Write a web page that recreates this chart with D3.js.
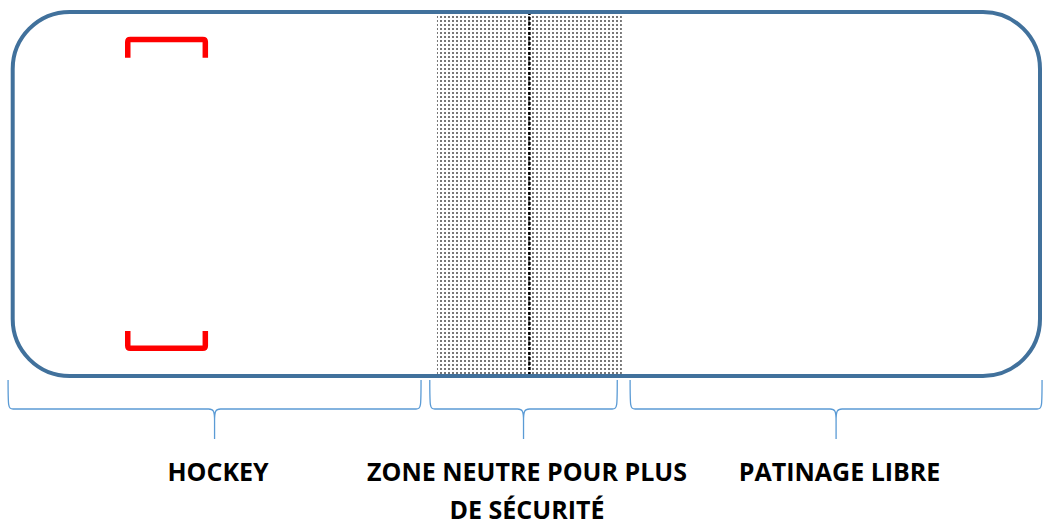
<!DOCTYPE html>
<html>
<head>
<meta charset="utf-8">
<script src="https://cdn.jsdelivr.net/npm/d3@7"></script>
<style>
  body { margin: 0; background: #fff; }
  svg { display: block; }
  .label { font-family: "Open Sans", sans-serif; font-weight: bold; font-size: 25px; fill: #000; }
</style>
</head>
<body>
<div id="chart"></div>
<script>
// rink in feet (length x width)
rinkLength = 200;
rinkWidth = 85;

// neutral zone and centre line (feet along the rink)
neutralZone = [82.6, 118.6];
centreLine = 100.6;

// goal brackets: x from/to, mouth y, back y (feet)
goals = [
  { x0: 22.4, x1: 37.5, open: 10.7, back: 6.4 },
  { x0: 22.4, x1: 37.5, open: 74.5, back: 78.5 }
];

// zones under the rink, braces and labels
zoneNames = ["HOCKEY", "ZONE NEUTRE POUR PLUS", "PATINAGE LIBRE"];
zoneLines2 = ["", "DE SÉCURITÉ", ""];
zoneStart = [-0.9, 81.2, 120.2];
zoneEnd = [79.5, 117.7, 200.4];

let width = 1043, height = 527;
let rinkBox = { left: 12.7, right: 1040, top: 12, bottom: 376 };
let cornerR = 57;

let x = d3.scaleLinear().domain([0, rinkLength]).range([rinkBox.left, rinkBox.right]);
let y = d3.scaleLinear().domain([0, rinkWidth]).range([rinkBox.top, rinkBox.bottom]);

let svg = d3.select("#chart").append("svg")
  .attr("width", width).attr("height", height);

// dot pattern for the neutral zone
let defs = svg.append("defs");
let pat = defs.append("pattern").attr("id", "dots")
  .attr("patternUnits", "userSpaceOnUse")
  .attr("width", 4).attr("height", 4);
pat.append("rect").attr("x", 0).attr("y", 0).attr("width", 2).attr("height", 2).attr("fill", "#777");

svg.append("rect")
  .attr("x", x(neutralZone[0])).attr("y", y(0))
  .attr("width", x(neutralZone[1]) - x(neutralZone[0]))
  .attr("height", y(rinkWidth) - y(0))
  .attr("fill", "url(#dots)");

// centre line
svg.append("line")
  .attr("x1", x(centreLine)).attr("x2", x(centreLine))
  .attr("y1", y(0)).attr("y2", y(rinkWidth))
  .attr("stroke", "#000").attr("stroke-width", 2.5)
  .attr("stroke-dasharray", "3,2");

// rink boards
svg.append("rect")
  .attr("x", x(0)).attr("y", y(0))
  .attr("width", x(rinkLength) - x(0))
  .attr("height", y(rinkWidth) - y(0))
  .attr("rx", cornerR).attr("ry", cornerR)
  .attr("fill", "none")
  .attr("stroke", "#41719C").attr("stroke-width", 4);

// goal brackets
svg.selectAll(".goal").data(goals).enter().append("path")
  .attr("class", "goal")
  .attr("d", function(d) {
    let a = x(d.x0), b = x(d.x1), o = y(d.open), k = y(d.back);
    let s = o > k ? 1 : -1, r = 2.5;
    return "M" + a + "," + o + " L" + a + "," + (k + s * r) +
      " Q" + a + "," + k + " " + (a + r) + "," + k +
      " L" + (b - r) + "," + k +
      " Q" + b + "," + k + " " + b + "," + (k + s * r) +
      " L" + b + "," + o;
  })
  .attr("fill", "none").attr("stroke", "#FF0000").attr("stroke-width", 5.5);

// braces under the rink
let braceTop = 380, braceMid = 409, braceTip = 439;
let zones = zoneNames.map(function(n, i) {
  return { name: n, line2: zoneLines2[i], start: zoneStart[i], end: zoneEnd[i] };
});

svg.selectAll(".brace").data(zones).enter().append("path")
  .attr("class", "brace")
  .attr("d", function(d) {
    let a = x(d.start), b = x(d.end), c = (a + b) / 2;
    let m = braceMid, t = braceTop, e = braceTip;
    return "M" + a + "," + t +
      " C" + a + "," + (m - 2) + " " + a + "," + m + " " + (a + 5) + "," + m +
      " L" + (c - 6) + "," + m +
      " C" + (c - 1) + "," + m + " " + c + "," + (m + 2) + " " + c + "," + (m + 12) +
      " L" + c + "," + e +
      " M" + c + "," + (m + 12) +
      " C" + c + "," + (m + 2) + " " + (c + 1) + "," + m + " " + (c + 6) + "," + m +
      " L" + (b - 5) + "," + m +
      " C" + b + "," + m + " " + b + "," + (m - 2) + " " + b + "," + t;
  })
  .attr("fill", "none").attr("stroke", "#5B9BD5").attr("stroke-width", 1.3);

// labels
let labels = svg.selectAll(".label").data(zones).enter().append("text")
  .attr("class", "label")
  .attr("text-anchor", "middle")
  .attr("x", function(d) { return (x(d.start) + x(d.end)) / 2 + 3.5; })
  .attr("y", 481);

labels.append("tspan").text(function(d) { return d.name; });
labels.filter(function(d) { return d.line2 !== ""; })
  .append("tspan")
  .attr("x", function(d) { return (x(d.start) + x(d.end)) / 2 + 3.5; })
  .attr("dy", 38)
  .text(function(d) { return d.line2; });
</script>
</body>
</html>
